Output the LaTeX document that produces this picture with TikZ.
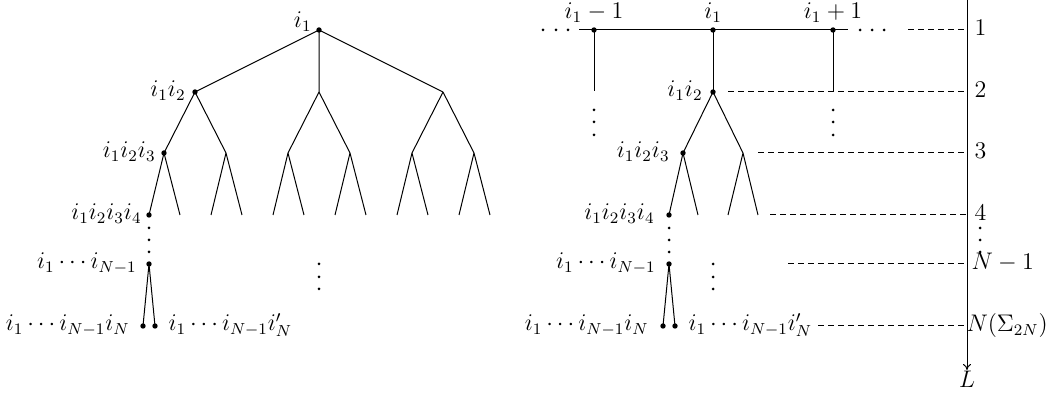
\documentclass[tikz,border=0pt,12pt]{standalone}
\usetikzlibrary{arrows.meta}
\begin{document}
\begin{tikzpicture}[x=0.5pt,y=-0.5pt,line width=0.5pt,
  dot/.style={circle,fill,inner sep=0pt,minimum size=2.7pt},
  sdot/.style={circle,fill,inner sep=0pt,minimum size=1.5pt},
  lab/.style={inner sep=1pt},
  toplab/.style={inner sep=0pt,anchor=base},
  lvl/.style={dash pattern=on 3pt off 2pt}]
\useasboundingbox (0,0) rectangle (1060,399);
% ---------------- left tree ----------------
\node[dot] (r) at (319,30) {};
\node[dot] (a) at (195,92) {};
\coordinate (b) at (319,92);
\coordinate (c) at (443,92);
\node[dot] (a1) at (164,153) {};
\coordinate (a2) at (226,153);
\coordinate (b1) at (288,153);
\coordinate (b2) at (350,153);
\coordinate (c1) at (412,153);
\coordinate (c2) at (474,153);
\node[dot] (a11) at (149,215) {};
\coordinate (a12) at (180,215);
\coordinate (a21) at (211,215);
\coordinate (a22) at (242,215);
\coordinate (b11) at (273,215);
\coordinate (b12) at (304,215);
\coordinate (b21) at (335,215);
\coordinate (b22) at (366,215);
\coordinate (c11) at (397,215);
\coordinate (c12) at (428,215);
\coordinate (c21) at (459,215);
\coordinate (c22) at (490,215);
\draw (r.center) -- (a.center) (r.center) -- (b) (r.center) -- (c);
\draw (a.center) -- (a1.center) (a.center) -- (a2) (b) -- (b1) (b) -- (b2) (c) -- (c1) (c) -- (c2);
\draw (a1.center) -- (a11.center) (a1.center) -- (a12) (a2) -- (a21) (a2) -- (a22)
      (b1) -- (b11) (b1) -- (b12) (b2) -- (b21) (b2) -- (b22)
      (c1) -- (c11) (c1) -- (c12) (c2) -- (c21) (c2) -- (c22);
\foreach \y [count=\k] in {228,240,252} \node[sdot] (lv\k) at (149,\y) {};
\node[dot] (n1) at (149,264) {};
\node[dot] (la) at (143,326) {};
\node[dot] (lb) at (155,326) {};
\draw (n1.center) -- (la.center) (n1.center) -- (lb.center);
\foreach \y [count=\k] in {264,277,289} \node[sdot] (lm\k) at (319,\y) {};
\node[lab,anchor=base east] (tr) at (314,28) {$i_1$};
\node[lab,anchor=base east] (ta) at (188,97) {$i_1i_2$};
\node[lab,anchor=base east] (ta1) at (158,158) {$i_1i_2i_3$};
\node[lab,anchor=base east] (ta11) at (144,220) {$i_1i_2i_3i_4$};
\node[lab,anchor=base east] (tn1) at (139,269) {$i_1\cdots i_{N-1}$};
\node[lab,anchor=base east] (tla) at (132,331) {$i_1\cdots i_{N-1}i_N$};
\node[lab,anchor=base west] (tlb) at (166,331) {$i_1\cdots i_{N-1}i'_N$};
% ---------------- right tree ----------------
\coordinate (hl) at (579,30);
\coordinate (hr) at (848,30);
\node[dot] (p) at (594,30) {};
\node[dot] (q) at (713,30) {};
\node[dot] (s) at (833,30) {};
\draw (hl) -- (hr);
\foreach \x [count=\k] in {543,556,568} \node[sdot] (dl\k) at (\x,30) {};
\foreach \x [count=\k] in {860,872,884} \node[sdot] (dr\k) at (\x,30) {};
\coordinate (pe) at (594,91);
\coordinate (se) at (833,91);
\draw (p.center) -- (pe) (s.center) -- (se);
\foreach \y [count=\k] in {110,122,135} \node[sdot] (pv\k) at (594,\y) {};
\foreach \y [count=\k] in {110,122,135} \node[sdot] (sv\k) at (833,\y) {};
\node[dot] (q2) at (713,92) {};
\draw (q.center) -- (q2.center);
\node[dot] (q3) at (683,153) {};
\coordinate (q3b) at (743,153);
\draw (q2.center) -- (q3.center) (q2.center) -- (q3b);
\node[dot] (q4) at (669,215) {};
\coordinate (q4b) at (698,215);
\coordinate (q4c) at (728,215);
\coordinate (q4d) at (758,215);
\draw (q3.center) -- (q4.center) (q3.center) -- (q4b) (q3b) -- (q4c) (q3b) -- (q4d);
\foreach \y [count=\k] in {228,240,252} \node[sdot] (rv\k) at (669,\y) {};
\node[dot] (qn1) at (669,264) {};
\node[dot] (ra) at (663,326) {};
\node[dot] (rb) at (675,326) {};
\draw (qn1.center) -- (ra.center) (qn1.center) -- (rb.center);
\foreach \y [count=\k] in {264,277,289} \node[sdot] (rm\k) at (713,\y) {};
\node[toplab] (tp) at (594,19) {$i_1-1$};
\node[toplab] (tq) at (713,19) {$i_1$};
\node[toplab] (ts) at (833,19) {$i_1+1$};
\node[lab,anchor=base east] (tq2) at (705,97) {$i_1i_2$};
\node[lab,anchor=base east] (tq3) at (672,158) {$i_1i_2i_3$};
\node[lab,anchor=base east] (tq4) at (657,220) {$i_1i_2i_3i_4$};
\node[lab,anchor=base east] (tqn1) at (658,269) {$i_1\cdots i_{N-1}$};
\node[lab,anchor=base east] (tra) at (651,331) {$i_1\cdots i_{N-1}i_N$};
\node[lab,anchor=base west] (trb) at (686,331) {$i_1\cdots i_{N-1}i'_N$};
% ---------------- axis ----------------
\coordinate (ax0) at (967,0);
\coordinate (ax1) at (967,370);
\draw[-{To[length=3pt,width=4pt]}] (ax0) -- (ax1);
\node[lab,anchor=base] (tL) at (967,388) {$L$};
\node[lab,anchor=base west] (l1) at (972,36) {$1$};
\node[lab,anchor=base west] (l2) at (972,98) {$2$};
\node[lab,anchor=base west] (l3) at (972,159) {$3$};
\node[lab,anchor=base west] (l4) at (972,221) {$4$};
\foreach \y [count=\k] in {228,240,252} \node[sdot] (av\k) at (980,\y) {};
\node[lab,anchor=base west] (l5) at (969,270) {$N-1$};
\node[lab,anchor=base west] (l6) at (964,332) {$N(\Sigma_{2N})$};
\coordinate (d1) at (908,30);
\coordinate (d2) at (728,92);
\coordinate (d3) at (758,153);
\coordinate (d4) at (770,215);
\coordinate (d5) at (788,264);
\coordinate (d6) at (818,326);
\draw[lvl] (d1) -- (ax0 |- d1);
\draw[lvl] (d2) -- (ax0 |- d2);
\draw[lvl] (d3) -- (ax0 |- d3);
\draw[lvl] (d4) -- (ax0 |- d4);
\draw[lvl] (d5) -- (ax0 |- d5);
\draw[lvl] (d6) -- (ax0 |- d6);
\end{tikzpicture}
\end{document}
